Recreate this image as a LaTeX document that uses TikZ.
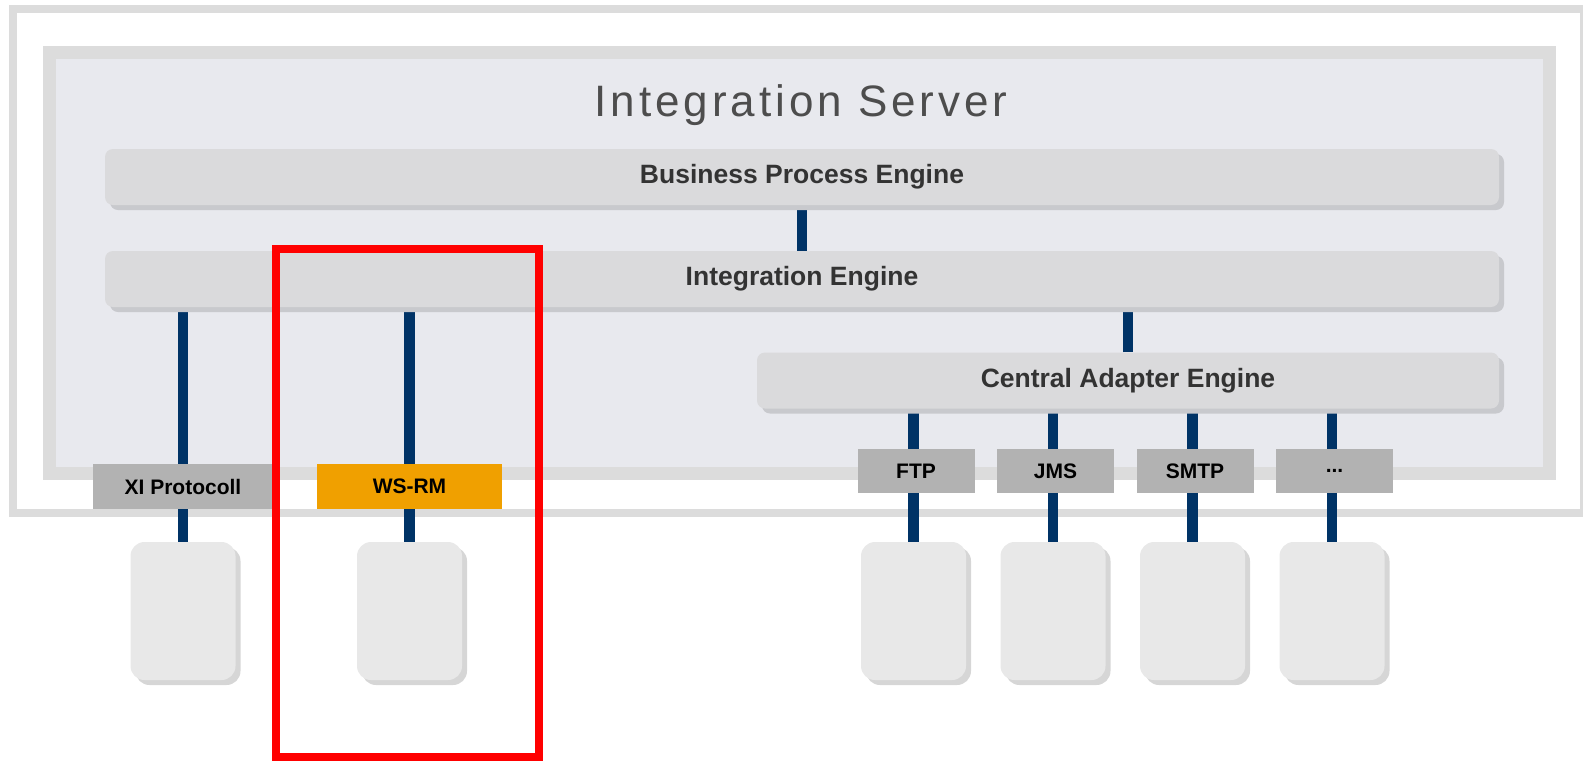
\documentclass[tikz,border=0pt]{standalone}
\usepackage{fontspec}
\setmainfont{Liberation Sans}
\newfontfamily\titlefont[LetterSpace=9]{Liberation Sans}
\usetikzlibrary{shadows,backgrounds}

\definecolor{framegray}{HTML}{DCDCDC}
\definecolor{serverfill}{HTML}{E8E9EE}
\definecolor{barfill}{HTML}{DADADC}
\definecolor{barshadow}{HTML}{C8C9CD}
\definecolor{protgray}{HTML}{B2B2B2}
\definecolor{wsorange}{HTML}{F0A000}
\definecolor{sysfill}{HTML}{E8E8E8}
\definecolor{sysshadow}{HTML}{D6D6D6}
\definecolor{linkblue}{HTML}{003366}
\definecolor{labelgray}{HTML}{333333}
\definecolor{titlegray}{HTML}{4D4D4D}
\newcommand{\adapterdots}{...}

\begin{document}
\begin{tikzpicture}[x=1pt, y=-1pt,
    bar/.style={rectangle, rounded corners=8pt, fill=barfill, minimum height=56pt, text=labelgray,
                font=\fontsize{26.5}{30}\selectfont\bfseries,
                drop shadow={shadow xshift=5pt, shadow yshift=-5pt, fill=barshadow, opacity=1}},
    prot/.style={rectangle, fill=protgray, minimum height=45pt, text=black, font=\fontsize{21}{24}\selectfont\bfseries},
    sys/.style={rectangle, rounded corners=14pt, fill=sysfill, minimum width=105pt, minimum height=138pt,
                drop shadow={shadow xshift=5pt, shadow yshift=-5pt, fill=sysshadow, opacity=1}},
    link/.style={draw=linkblue, line width=10.5pt}]

    \useasboundingbox (0,0) rectangle (1583,761);

    \node[anchor=base, text=titlegray, font=\titlefont\fontsize{44}{48}\selectfont] (title) at (801,116.7) {Integration Server};

    \node[bar, minimum width=1394pt] (bpe) at (802,177) {Business Process Engine};
    \node[bar, minimum width=1394pt] (ie) at (802,279) {Integration Engine};
    \node[bar, minimum width=742pt] (cae) at (1128,380.5) {Central Adapter Engine};

    \node[prot, minimum width=180pt] (xi) at (183,486.5) {XI Protocoll};
    \node[prot, fill=wsorange, minimum width=185pt] (wsrm) at (409.5,486.5) {WS-RM};
    \node[sys] (sysxi) at (183,611) {};
    \node[sys] (syswsrm) at (409.5,611) {};

    \foreach \name/\lbl [count=\i from 0] in {ftp/FTP, jms/JMS, smtp/SMTP, more/\adapterdots} {
        \node[prot, minimum width=117pt, minimum height=44pt] (\name) at (916+139.5*\i,471) {\lbl};
        \node[sys] (sys\name) at (913.5+139.5*\i,611) {};
    }

    \begin{pgfonlayer}{background}
        \draw[framegray, line width=8pt] (13,9) rectangle (1584,513);
        \draw[draw=framegray, fill=serverfill, line width=13pt] (49,52.5) rectangle (1549.5,473.5);

        \draw[link] (bpe.south) -- (ie.north);
        \draw[link] (xi.north) -- (xi.north |- ie.south);
        \draw[link] (xi.south) -- (sysxi.north);
        \draw[link] (wsrm.north) -- (wsrm.north |- ie.south);
        \draw[link] (wsrm.south) -- (syswsrm.north);
        \draw[link] (cae.north) -- (cae.north |- ie.south);
        \foreach \name in {ftp, jms, smtp, more} {
            \draw[link] (sys\name.north) -- (sys\name.north |- cae.south);
        }
    \end{pgfonlayer}

    % highlighted part
    \node[draw=red, line width=7.5pt, minimum width=263pt, minimum height=508pt, inner sep=0pt] (focus) at (407.5,503) {};
\end{tikzpicture}
\end{document}
